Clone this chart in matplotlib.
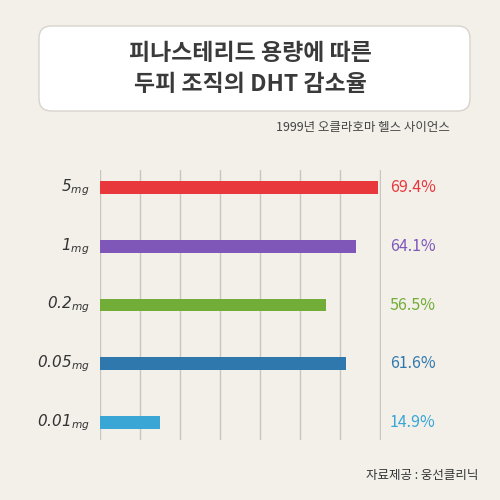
import matplotlib
matplotlib.use("Agg")
import matplotlib.pyplot as plt
from matplotlib.patches import FancyBboxPatch

plt.rcParams['font.family'] = ['Noto Sans CJK KR', 'DejaVu Sans']

doses = ["5", "1", "0.2", "0.05", "0.01"]
values = [69.4, 64.1, 56.5, 61.6, 14.9]
colors = ["#e8383b", "#7e57b8", "#72ad37", "#2f78ad", "#39a6d6"]
labels = ["69.4%", "64.1%", "56.5%", "61.6%", "14.9%"]

bg = "#f3f0ea"
fig = plt.figure(figsize=(5, 5), dpi=100, facecolor=bg)

box = FancyBboxPatch((0.078, 0.778), 0.862, 0.17, boxstyle="round,pad=0,rounding_size=0.025",
                     transform=fig.transFigure, facecolor="white", edgecolor="#d8d4cc", lw=1)
fig.patches.append(box)
fig.text(0.5, 0.862, "피나스테리드 용량에 따른\n두피 조직의 DHT 감소율", ha="center", va="center",
         fontsize=16.5, fontweight="bold", color="#3a3a3a", linespacing=1.45)
fig.text(0.9, 0.745, "1999년 오클라호마 헬스 사이언스", ha="right", va="center", fontsize=9, color="#444")
fig.text(0.956, 0.05, "자료제공 : 웅선클리닉", ha="right", va="center", fontsize=9, color="#333")

ax = fig.add_axes([0.2, 0.12, 0.5624, 0.54])
ax.set_facecolor(bg)
ypos = list(range(len(values)))
ax.barh(ypos, values, height=0.22, color=colors)
ax.set_xlim(0, 70.3)
ax.set_ylim(4.3, -0.3)
ax.set_xticks(range(0, 71, 10))
ax.grid(axis="x", color="#c9c6c0", lw=1)
ax.set_axisbelow(True)
ax.tick_params(left=False, bottom=False, labelleft=False, labelbottom=False)
for s in ax.spines.values():
    s.set_visible(False)
for y, d, lab, c in zip(ypos, doses, labels, colors):
    ax.text(-2.5, y, d + r"$_{mg}$", ha="right", va="center", fontsize=11, style="italic",
            color="#333", family="DejaVu Sans")
    ax.text(72.5, y, lab, ha="left", va="center", fontsize=11.5, color=c)

fig.savefig("out.png", dpi=100, facecolor=bg)
